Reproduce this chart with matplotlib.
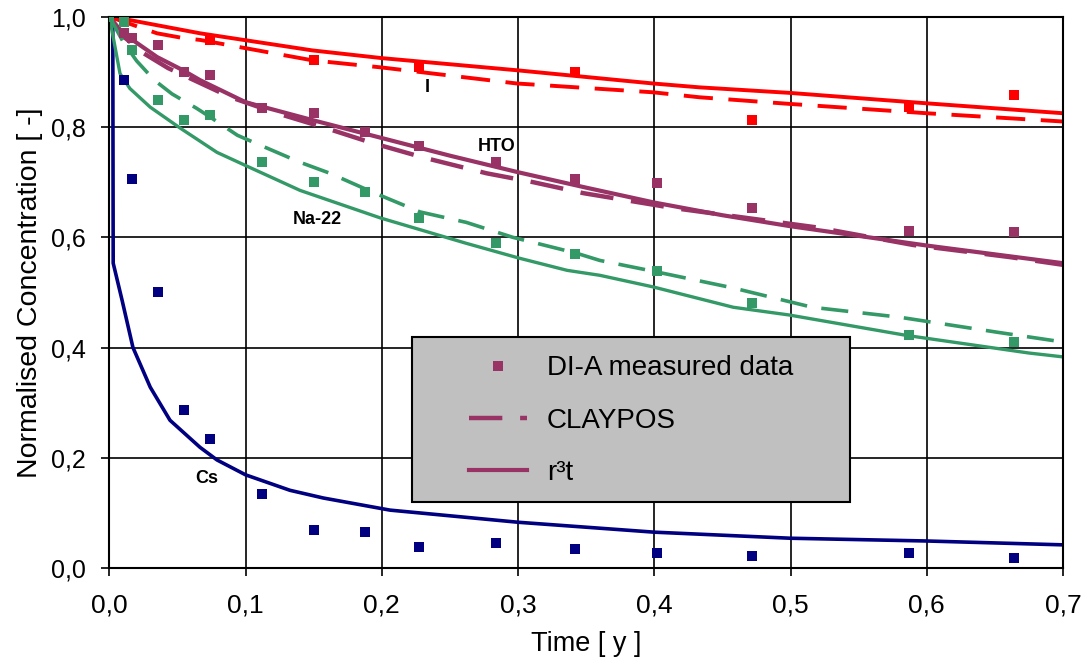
import matplotlib
matplotlib.use('Agg')
from matplotlib import pyplot as plt
from matplotlib.patches import Rectangle
from matplotlib.ticker import FuncFormatter, MultipleLocator

plt.rcParams['font.family'] = ['Liberation Sans', 'DejaVu Sans']

# measured data (DI-A)
t_meas = [0.0, 0.0107, 0.0167, 0.0357, 0.0547, 0.0738, 0.112, 0.150, 0.188, 0.227,
          0.284, 0.342, 0.402, 0.472, 0.587, 0.664]
cs_meas = [1.0, 0.885, 0.705, 0.50, 0.287, 0.234, 0.134, 0.069, 0.065, 0.038,
           0.045, 0.034, 0.027, 0.022, 0.027, 0.018]
na_meas = [1.0, 0.99, 0.939, 0.849, 0.812, 0.821, 0.736, 0.70, 0.682, 0.635,
           0.59, 0.57, 0.539, 0.481, 0.423, 0.41]
hto_meas = [1.0, 0.97, 0.961, 0.948, 0.90, 0.894, 0.834, 0.825, 0.791, 0.765,
            0.736, 0.705, 0.698, 0.653, 0.611, 0.61]
t_meas_i = [0.0, 0.0738, 0.150, 0.227, 0.342, 0.472, 0.587, 0.664]
i_meas = [1.0, 0.957, 0.921, 0.909, 0.90, 0.812, 0.836, 0.858]

# r3t model
t_cs_r3t = [0.0, 0.0025, 0.0028, 0.0093, 0.0173, 0.030, 0.0445, 0.0665, 0.079, 0.1,
            0.1325, 0.157, 0.206, 0.3, 0.4, 0.5, 0.6, 0.7]
cs_r3t = [1.0, 0.98, 0.553, 0.486, 0.40, 0.328, 0.268, 0.219, 0.196, 0.169,
          0.141, 0.127, 0.105, 0.083, 0.065, 0.054, 0.049, 0.042]
t_na_r3t = [0.0, 0.0078, 0.015, 0.03, 0.052, 0.079, 0.101, 0.140, 0.199, 0.262,
            0.301, 0.336, 0.36, 0.399, 0.458, 0.499, 0.585, 0.675, 0.7]
na_r3t = [1.0, 0.897, 0.870, 0.836, 0.798, 0.754, 0.729, 0.685, 0.635, 0.589,
          0.562, 0.54, 0.531, 0.51, 0.473, 0.459, 0.422, 0.39, 0.383]
t_hto_r3t = [0.0, 0.01, 0.035, 0.054, 0.0666, 0.1, 0.15, 0.2, 0.25, 0.3, 0.35,
             0.4, 0.45, 0.5, 0.6, 0.7]
hto_r3t = [1.0, 0.970, 0.927, 0.903, 0.885, 0.845, 0.812, 0.78, 0.748, 0.718, 0.69,
           0.663, 0.64, 0.62, 0.585, 0.553]
t_i_r3t = [0.0, 0.015, 0.0666, 0.149, 0.2, 0.299, 0.399, 0.433, 0.499, 0.6, 0.7]
i_r3t = [1.0, 0.994, 0.970, 0.939, 0.925, 0.903, 0.879, 0.872, 0.862, 0.843, 0.825]

# CLAYPOS model
t_na_clay = [0.0, 0.01, 0.020, 0.033, 0.046, 0.064, 0.074, 0.094, 0.107, 0.14, 0.162,
             0.193, 0.228, 0.262, 0.296, 0.343, 0.36, 0.40, 0.458, 0.516, 0.58, 0.651, 0.7]
na_clay = [1.0, 0.955, 0.92, 0.885, 0.86, 0.834, 0.818, 0.785, 0.771, 0.736, 0.716,
           0.682, 0.646, 0.627, 0.60, 0.571, 0.558, 0.538, 0.508, 0.473, 0.455, 0.428, 0.41]
t_hto_clay = [0.0, 0.01, 0.025, 0.043, 0.089, 0.123, 0.159, 0.193, 0.23, 0.277, 0.311,
              0.348, 0.414, 0.453, 0.519, 0.59, 0.661, 0.7]
hto_clay = [1.0, 0.965, 0.934, 0.907, 0.854, 0.825, 0.798, 0.771, 0.745, 0.716, 0.70,
            0.68, 0.653, 0.64, 0.618, 0.586, 0.564, 0.55]
t_i_clay = [0.0, 0.035, 0.055, 0.0666, 0.149, 0.2, 0.299, 0.399, 0.433, 0.499, 0.6, 0.7]
i_clay = [1.0, 0.97, 0.961, 0.958, 0.921, 0.908, 0.879, 0.863, 0.854, 0.842, 0.825, 0.81]

# species labels
species = ['I', 'HTO', 'Na-22', 'Cs']
label_t = [0.233, 0.284, 0.153, 0.0716]
label_c = [0.871, 0.764, 0.633, 0.162]

c_i, c_hto, c_na, c_cs = '#ff0000', '#993366', '#339966', '#000080'
dash = (7.5, 4)

fig = plt.figure(figsize=(10.83, 6.71), dpi=100)
ax = fig.add_axes([0.101, 0.1535, 0.8805, 0.8215])

ms = 7
ax.plot(t_cs_r3t, cs_r3t, color=c_cs, lw=2.6, zorder=2)
ax.plot(t_meas, cs_meas, 's', color=c_cs, ms=ms, mew=0, zorder=3)

ax.plot(t_i_r3t, i_r3t, color=c_i, lw=2.8, zorder=2)
ax.plot(t_i_clay, i_clay, color=c_i, lw=2.8, dashes=dash, zorder=2)
ax.plot(t_meas_i, i_meas, 's', color=c_i, ms=ms, mew=0, zorder=3)

l_r3t, = ax.plot(t_hto_r3t, hto_r3t, color=c_hto, lw=3, zorder=2)
l_clay, = ax.plot(t_hto_clay, hto_clay, color=c_hto, lw=3.2, dashes=dash, zorder=2)
l_meas, = ax.plot(t_meas, hto_meas, 's', color=c_hto, ms=ms, mew=0, zorder=3)

ax.plot(t_na_r3t, na_r3t, color=c_na, lw=2.4, zorder=2)
ax.plot(t_na_clay, na_clay, color=c_na, lw=2.6, dashes=dash, zorder=2)
ax.plot(t_meas, na_meas, 's', color=c_na, ms=ms, mew=0, zorder=3)

for name, t, c in zip(species, label_t, label_c):
    ax.text(t, c, name, fontsize=13, fontweight='bold', ha='center', va='center', zorder=6)

ax.set_xlim(0, 0.7)
ax.set_ylim(0, 1.0)
ax.xaxis.set_major_locator(MultipleLocator(0.1))
ax.yaxis.set_major_locator(MultipleLocator(0.2))
comma = FuncFormatter(lambda v, p: f'{v:.1f}'.replace('.', ','))
ax.xaxis.set_major_formatter(comma)
ax.yaxis.set_major_formatter(comma)
ax.tick_params(axis='both', direction='out', length=6, width=1.2, colors='black')
ax.tick_params(axis='x', labelsize=19, pad=12)
ax.tick_params(axis='y', labelsize=18, pad=11)
ax.grid(color='black', linewidth=1.2)
ax.set_axisbelow(True)
for s in ax.spines.values():
    s.set_linewidth(1.5)

ax.set_xlabel('Time [ y ]', fontsize=19.5, labelpad=10)
ax.set_ylabel('Normalised Concentration [ -]', fontsize=20.5, labelpad=6)

ax.add_patch(Rectangle((0.3173, 0.1197), 0.4593, 0.2993, transform=ax.transAxes,
                       facecolor='#c0c0c0', edgecolor='black', lw=1.5, zorder=4))
ax.legend([l_meas, l_clay, l_r3t], ['DI-A measured data', 'CLAYPOS', 'r\u00b3t'],
          loc='upper left', bbox_to_anchor=(0.377, 0.386), frameon=False,
          fontsize=20, handlelength=2.1, handletextpad=0.7, labelspacing=0.95,
          borderpad=0, borderaxespad=0, markerscale=1.0)

fig.savefig('out.png', dpi=100)
